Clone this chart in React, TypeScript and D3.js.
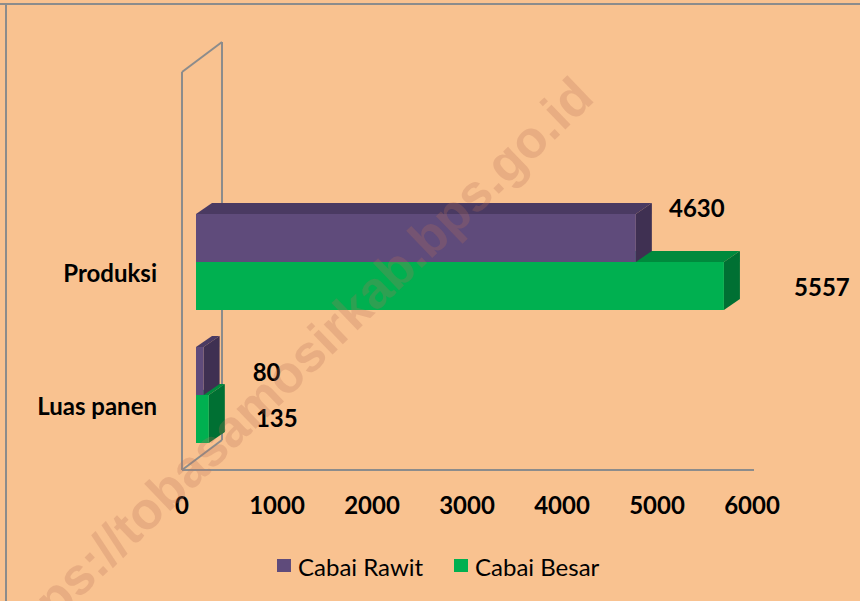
import React from "react";
import * as d3 from "d3";

const categories = ["Produksi", "Luas panen"];
const seriesNames = ["Cabai Rawit", "Cabai Besar"];
const cabaiRawit = [4630, 80];
const cabaiBesar = [5557, 135];
const xTicks = [0, 1000, 2000, 3000, 4000, 5000, 6000];

// label nudges (dx from bar end, dy from bar centre), per series per category
const labelNudgeRawit = [[61, -31], [63, 0]];
const labelNudgeBesar = [[98, 0], [68, -2]];

const W = 860;
const H = 601;
const BG = "#F9C290";
const FONT = "Lato, 'Open Sans', sans-serif";

const seriesColors = [
  { front: "#5F4B7B", top: "#4A3A62", side: "#3F3052" },
  { front: "#00B050", top: "#008A3D", side: "#007033" },
];

export default function App() {
  const x = d3.scaleLinear().domain([0, 6000]).range([182, 752]);
  const y = d3.scalePoint<string>().domain(categories).range([262, 395]);
  const barH = 48;
  const barShift = 14;
  const ddx = 16;
  const ddy = -11;
  const wallDx = 40;
  const wallDy = -30;
  const floorY = 470;
  const wallTop = 72;

  const series = [cabaiRawit, cabaiBesar];
  const nudges = [labelNudgeRawit, labelNudgeBesar];

  const box = (x0: number, x1: number, y0: number, y1: number, c: any, key: string) => {
    const top = [[x0, y0], [x1, y0], [x1 + ddx, y0 + ddy], [x0 + ddx, y0 + ddy]];
    const side = [[x1, y0], [x1 + ddx, y0 + ddy], [x1 + ddx, y1 + ddy], [x1, y1]];
    const pts = (p: number[][]) => p.map((q) => q.join(",")).join(" ");
    return (
      <g key={key}>
        <polygon points={pts(top)} fill={c.top} />
        <polygon points={pts(side)} fill={c.side} />
        <rect x={x0} y={y0} width={x1 - x0} height={y1 - y0} fill={c.front} />
      </g>
    );
  };

  const bars: any[] = [];
  const labels: any[] = [];
  [1, 0].forEach((si) => {
    categories.forEach((cat, ci) => {
      const v = series[si][ci];
      const cy = y(cat)!;
      const y0 = si === 0 ? cy - barH : cy;
      const y1 = y0 + barH;
      const x0 = x(0) + barShift;
      const x1 = x(v) + barShift;
      bars.push(box(x0, x1, y0, y1, seriesColors[si], `b${si}-${ci}`));
      const [ndx, ndy] = nudges[si][ci];
      labels.push(
        <text
          key={`l${si}-${ci}`}
          x={x1 + ndx}
          y={(y0 + y1) / 2 + ndy}
          textAnchor="middle"
          dominantBaseline="central"
          fontFamily={FONT}
          fontWeight="bold"
          fontSize={24}
          fill="#000"
        >
          {v}
        </text>
      );
    });
  });

  const gray = "#8C8C8C";
  const x0 = x(0);

  return (
    <div style={{ position: "absolute", left: 0, top: 0 }}>
      <svg width={W} height={H} viewBox={`0 0 ${W} ${H}`}>
        <rect x={0} y={0} width={W} height={H} fill={BG} />
        <line x1={0} y1={4} x2={W} y2={4} stroke={gray} strokeWidth={2} />
        <line x1={6} y1={4} x2={6} y2={H} stroke={gray} strokeWidth={2} />
        {/* walls */}
        <g stroke={gray} strokeWidth={2} fill="none">
          <line x1={x0} y1={wallTop} x2={x0} y2={floorY} />
          <line x1={x0 + wallDx} y1={wallTop + wallDy} x2={x0 + wallDx} y2={floorY + wallDy} />
          <line x1={x0} y1={wallTop} x2={x0 + wallDx} y2={wallTop + wallDy} />
          <line x1={x0} y1={floorY} x2={x0 + wallDx} y2={floorY + wallDy} />
          <line x1={x0} y1={floorY} x2={x(6000) + 2} y2={floorY} />
        </g>
        {bars}
        {labels}
        {xTicks.map((t) => (
          <text
            key={t}
            x={x(t)}
            y={504}
            textAnchor="middle"
            dominantBaseline="central"
            fontFamily={FONT}
            fontWeight="bold"
            fontSize={24}
            fill="#000"
          >
            {t}
          </text>
        ))}
        {categories.map((c) => (
          <text
            key={c}
            x={157}
            y={y(c)! + 10}
            textAnchor="end"
            dominantBaseline="central"
            fontFamily={FONT}
            fontWeight="bold"
            fontSize={24}
            fill="#000"
          >
            {c}
          </text>
        ))}
        {seriesNames.map((s, i) => {
          const lx = [277, 454][i];
          return (
            <g key={s}>
              <rect x={lx} y={559} width={14} height={13} fill={seriesColors[i].front} />
              <text
                x={lx + 21}
                y={566}
                dominantBaseline="central"
                fontFamily={FONT}
                fontSize={24}
                fill="#000"
              >
                {s}
              </text>
            </g>
          );
        })}
        <text
          x={596}
          y={100}
          textAnchor="end"
          transform="rotate(-44 596 100)"
          fontFamily="'Liberation Sans', Arial, sans-serif"
          fontWeight="bold"
          fontSize={52}
          fill="#B96E58"
          fillOpacity={0.25}
        >
          https://tobasamosirkab.bps.go.id
        </text>
      </svg>
    </div>
  );
}
